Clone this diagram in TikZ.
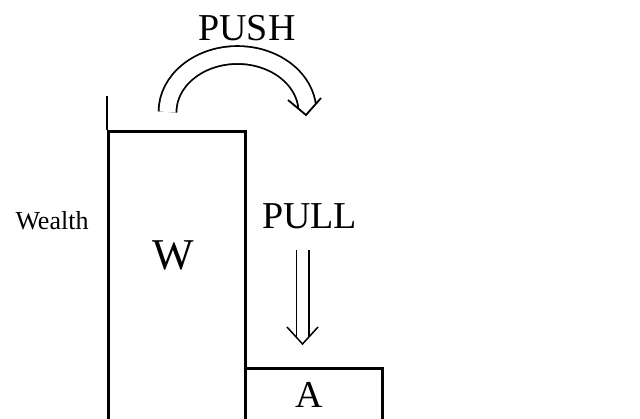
\documentclass[tikz,border=0pt]{standalone}
\usepackage{fontspec}
\setmainfont{Liberation Serif}
\usetikzlibrary{arrows.meta}
\tikzset{
  bar/.style={draw=black, line width=2.6pt, fill=none, inner sep=0pt, anchor=north west},
  axisline/.style={draw=black, line width=2.6pt},
  bigtext/.style={inner sep=0pt, font=\fontsize{38}{40}\selectfont},
  flowline/.style={double=white, draw=black, line width=1.8pt},
  vhead/.style={draw=black, line width=1.8pt, line join=miter},
  vmask/.style={fill=white, draw=none}
}
\begin{document}
\begin{tikzpicture}[x=1pt,y=-1pt]
  \useasboundingbox[fill=white] (0,0) rectangle (640,418);
  % bars
  \node[bar, minimum width=137pt, minimum height=320pt] (wbar) at (107,130) {};
  \node[bar, minimum width=137pt, minimum height=80pt] (abar) at (244,367) {};
  \coordinate (axistop) at (107,96);
  \draw[axisline] (axistop) -- (wbar.north west);
  % labels
  \node[inner sep=0pt, font=\fontsize{26}{28}\selectfont] (wealth) at (52,221) {Wealth};
  \node[inner sep=0pt, font=\fontsize{44}{46}\selectfont] (wlabel) at (173,255) {W};
  \node[bigtext] (alabel) at (309,394.5) {A};
  \node[bigtext] (push) at (247,28.5) {PUSH};
  \node[bigtext] (pull) at (309.5,216.5) {PULL};
  % push arrow
  \coordinate (pushstart) at (167.5,112);
  \coordinate (pushtip) at (306,115);
  \coordinate (pushwl) at (288,100);
  \coordinate (pushwr) at (321,98);
  \draw[flowline, double distance=16pt] (pushstart) arc[start angle=180, end angle=372, x radius=70, y radius=57];
  \fill[vmask] (pushwl) -- (pushtip) -- (pushwr) -- ++(0,40) -| (pushwl);
  \draw[vhead] (pushwl) -- (pushtip) -- (pushwr);
  % pull arrow
  \coordinate (pullstart) at (302.5,250);
  \coordinate (pulltip) at (302.5,344);
  \coordinate (pullwl) at (287,327);
  \coordinate (pullwr) at (318,327);
  \draw[flowline, line width=1.5pt, double distance=11pt] (pullstart) -- ++(0,92);
  \fill[vmask] (pullwl) -- (pulltip) -- (pullwr) -- ++(0,20) -| (pullwl);
  \draw[vhead, line width=1.5pt] (pullwl) -- (pulltip) -- (pullwr);
\end{tikzpicture}
\end{document}
